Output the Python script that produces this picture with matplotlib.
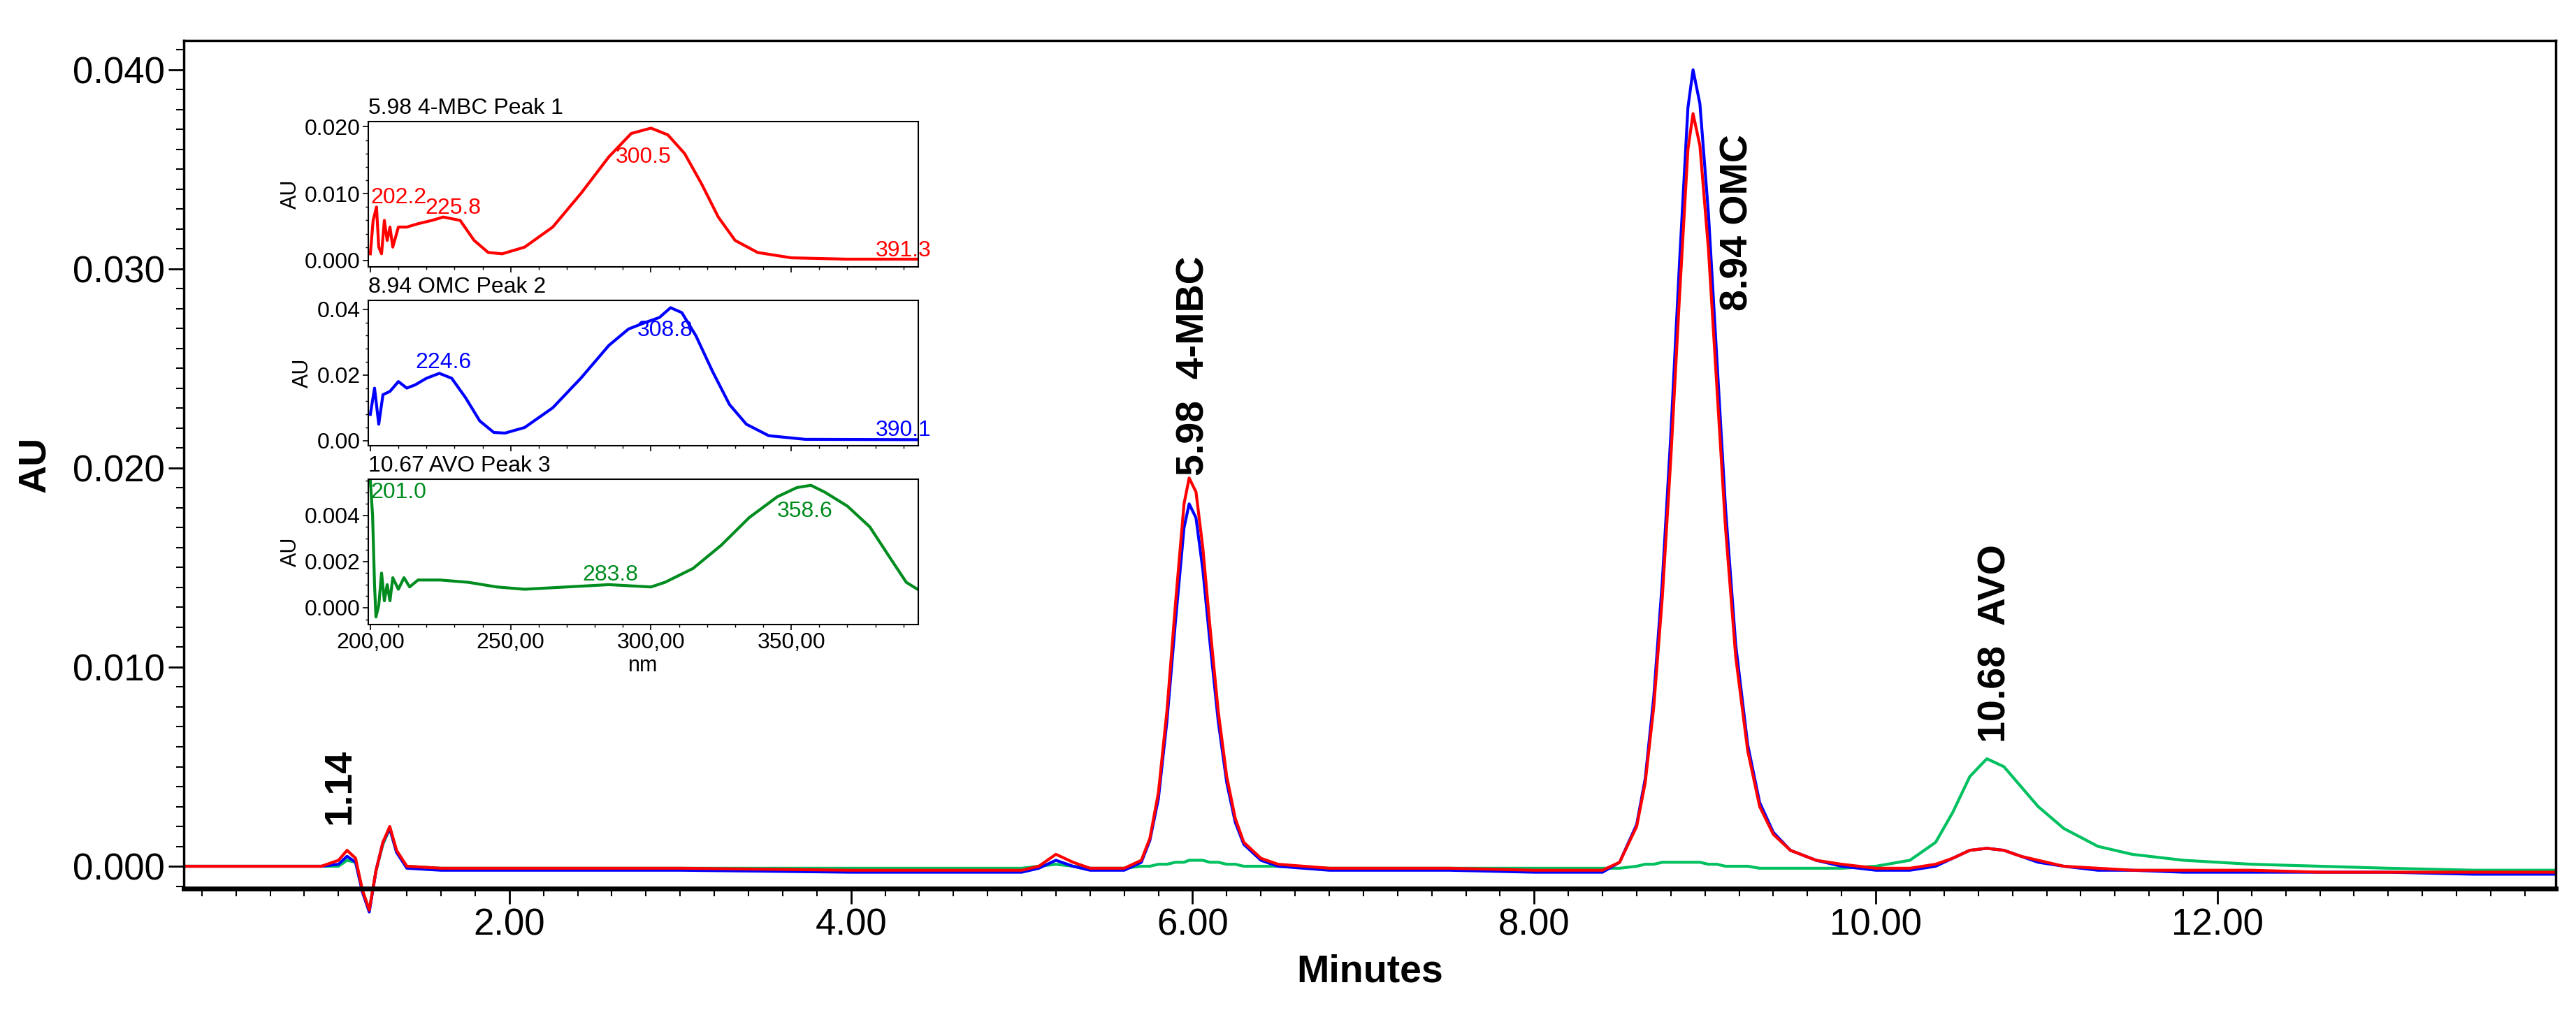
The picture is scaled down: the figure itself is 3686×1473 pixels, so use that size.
import matplotlib
matplotlib.use("Agg")
import matplotlib.pyplot as plt
from matplotlib import font_manager
from matplotlib.ticker import MultipleLocator, FuncFormatter

names = {f.name for f in font_manager.fontManager.ttflist}
MAIN = "Liberation Sans" if "Liberation Sans" in names else "DejaVu Sans"
NARROW = "Liberation Sans Narrow" if "Liberation Sans Narrow" in names else MAIN

# ---------------- chromatogram data ----------------
times = [0.10, 0.5, 0.9, 1.0, 1.05, 1.10,
         1.14, 1.18, 1.22, 1.26, 1.30, 1.34, 1.40, 1.6,
         2.0, 3.0, 4.0, 5.0, 5.10, 5.20, 5.30, 5.40, 5.60,
         5.70, 5.75, 5.80, 5.85, 5.90, 5.95, 5.98, 6.02, 6.06, 6.10, 6.15, 6.20, 6.25, 6.30, 6.40, 6.50,
         6.80, 7.0, 7.5, 8.0, 8.4,
         8.50, 8.60, 8.65, 8.70, 8.75, 8.80, 8.85, 8.90, 8.93, 8.97, 9.02, 9.07, 9.12, 9.18, 9.25, 9.32, 9.40, 9.50, 9.65, 9.80,
         10.0, 10.2, 10.35, 10.45, 10.55, 10.65, 10.75, 10.85, 10.95, 11.10, 11.30, 11.50, 11.80,
         12.2, 12.6, 13.0, 13.5, 13.98]

red_au = [0.0000, 0.0000, 0.0000, 0.0003, 0.0008, 0.0004,
          -0.0012, -0.0022, -0.0002, 0.0012, 0.0020, 0.0008, 0.0000, -0.0001,
          -0.0001, -0.0001, -0.0002, -0.0002, 0.0000, 0.0006, 0.0002, -0.0001, -0.0001,
          0.0003, 0.0014, 0.0037, 0.0078, 0.0132, 0.0182, 0.0195, 0.0188, 0.0160, 0.0122, 0.0078, 0.0045, 0.0024, 0.0012, 0.0004, 0.0001,
          -0.0001, -0.0001, -0.0001, -0.0002, -0.0002,
          0.0002, 0.0020, 0.0042, 0.0080, 0.0135, 0.0205, 0.0285, 0.0360, 0.0378, 0.0362, 0.0310, 0.0240, 0.0170, 0.0105, 0.0058, 0.0030, 0.0016, 0.0008, 0.0003, 0.0001,
          -0.0001, -0.0001, 0.0001, 0.0004, 0.0008, 0.0009, 0.0008, 0.0005, 0.0003, 0.0000, -0.0001, -0.0002, -0.0002,
          -0.0002, -0.0003, -0.0003, -0.0003, -0.0003]

blue_au = [0.0000, 0.0000, 0.0000, 0.0001, 0.0005, 0.0002,
           -0.0013, -0.0023, -0.0002, 0.0012, 0.0019, 0.0007, -0.0001, -0.0002,
           -0.0002, -0.0002, -0.0003, -0.0003, -0.0001, 0.0003, 0.0000, -0.0002, -0.0002,
           0.0002, 0.0013, 0.0034, 0.0073, 0.0123, 0.0170, 0.0182, 0.0175, 0.0149, 0.0114, 0.0073, 0.0042, 0.0022, 0.0011, 0.0003, 0.0000,
           -0.0002, -0.0002, -0.0002, -0.0003, -0.0003,
           0.0002, 0.0021, 0.0044, 0.0085, 0.0143, 0.0217, 0.0302, 0.0381, 0.0400, 0.0383, 0.0328, 0.0254, 0.0180, 0.0111, 0.0061, 0.0032, 0.0017, 0.0008, 0.0003, 0.0000,
           -0.0002, -0.0002, 0.0000, 0.0004, 0.0008, 0.0009, 0.0008, 0.0005, 0.0002, 0.0000, -0.0002, -0.0002, -0.0003,
           -0.0003, -0.0003, -0.0003, -0.0004, -0.0004]

green_au = [0.0000, 0.0000, 0.0000, 0.0000, 0.0003, 0.0002,
            -0.0012, -0.0022, -0.0002, 0.0011, 0.0019, 0.0007, 0.0000, -0.0001,
            -0.0001, -0.0001, -0.0001, -0.0001, 0.0000, 0.0001, 0.0000, -0.0001, -0.0001,
            0.0000, 0.0000, 0.0001, 0.0001, 0.0002, 0.0002, 0.0003, 0.0003, 0.0003, 0.0002, 0.0002, 0.0001, 0.0001, 0.0000, 0.0000, 0.0000,
            -0.0001, -0.0001, -0.0001, -0.0001, -0.0001,
            -0.0001, 0.0000, 0.0001, 0.0001, 0.0002, 0.0002, 0.0002, 0.0002, 0.0002, 0.0002, 0.0001, 0.0001, 0.0000, 0.0000, 0.0000, -0.0001, -0.0001, -0.0001, -0.0001, -0.0001,
            0.0000, 0.0003, 0.0012, 0.0027, 0.0045, 0.0054, 0.0050, 0.0040, 0.0030, 0.0019, 0.0010, 0.0006, 0.0003,
            0.0001, 0.0000, -0.0001, -0.0002, -0.0002]

peak_labels = ["1.14", "5.98  4-MBC", "8.94 OMC", "10.68  AVO"]
peak_label_x = [1.01, 6.01, 9.19, 10.70]
peak_label_y = [0.0021, 0.0196, 0.0279, 0.0062]

x_ticks = [2, 4, 6, 8, 10, 12]
y_ticks = [0.0, 0.01, 0.02, 0.03, 0.04]

# ---------------- spectra data ----------------
wl_red = [200, 201, 202.2, 203, 204, 205, 206, 207, 208, 210, 213, 217, 222, 226, 232, 237, 242, 247, 255, 265, 275, 285, 293, 300, 306, 312, 318, 324, 330, 338, 350, 370, 395]
au_red = [0.001, 0.006, 0.008, 0.002, 0.001, 0.006, 0.003, 0.005, 0.002, 0.005, 0.005, 0.0055, 0.006, 0.0065, 0.0060, 0.0030, 0.0012, 0.0010, 0.0020, 0.0050, 0.0100, 0.0155, 0.0190, 0.0198, 0.0188, 0.0160, 0.0115, 0.0065, 0.0030, 0.0012, 0.0004, 0.0002, 0.0002]

wl_blue = [200, 201.5, 203, 204.5, 207, 210, 213, 216, 220, 224.6, 229, 234, 239, 244, 248, 255, 265, 275, 285, 292, 298, 303, 307, 311, 316, 322, 328, 334, 342, 355, 395]
au_blue = [0.008, 0.016, 0.005, 0.014, 0.015, 0.018, 0.016, 0.017, 0.019, 0.0205, 0.019, 0.013, 0.006, 0.0025, 0.0023, 0.004, 0.010, 0.019, 0.029, 0.034, 0.036, 0.0375, 0.0405, 0.039, 0.032, 0.021, 0.011, 0.005, 0.0015, 0.0004, 0.0003]

wl_green = [200, 200.8, 201.5, 202, 203, 204, 205, 206, 207, 208, 210, 212, 214, 217, 225, 235, 245, 255, 270, 285, 300, 305, 315, 325, 335, 345, 352, 357, 362, 370, 378, 385, 391, 395]
au_green = [0.0055, 0.004, 0.001, -0.0004, 0.0001, 0.0015, 0.0003, 0.0010, 0.0003, 0.0013, 0.0008, 0.0013, 0.0009, 0.0012, 0.0012, 0.0011, 0.0009, 0.0008, 0.0009, 0.0010, 0.0009, 0.0011, 0.0017, 0.0027, 0.0039, 0.0048, 0.0052, 0.0053, 0.0050, 0.0044, 0.0035, 0.0022, 0.0011, 0.0008]

inset_titles = ["5.98 4-MBC Peak 1", "8.94 OMC Peak 2", "10.67 AVO Peak 3"]
red_marks = [("202.2", 200.2, 0.0094), ("225.8", 219.5, 0.0078), ("300.5", 287.5, 0.0155), ("391.3", 380, 0.0015)]
blue_marks = [("224.6", 216, 0.0237), ("308.8", 295, 0.0336), ("390.1", 380, 0.0032)]
green_marks = [("201.0", 200.2, 0.0050), ("283.8", 275.5, 0.00142), ("358.6", 345, 0.00418)]

RED, BLUE, GREEN_MAIN, GREEN_SPEC = "#ff0000", "#0000ff", "#00c060", "#008c1e"

fig = plt.figure(figsize=(36.86, 14.73), dpi=100)
ax = fig.add_axes([0.0714, 0.1365, 0.9207, 0.8241])
for vals, col in [(green_au, GREEN_MAIN), (blue_au, BLUE), (red_au, RED)]:
    ax.plot(times, vals, color=col, lw=3, clip_on=False)
ax.set_xlim(0.095, 13.98)
ax.set_ylim(-0.00112, 0.04147)
ax.set_xticks(x_ticks)
ax.xaxis.set_minor_locator(MultipleLocator(0.2))
ax.set_yticks(y_ticks)
ax.yaxis.set_minor_locator(MultipleLocator(0.001))
ax.xaxis.set_major_formatter(FuncFormatter(lambda v, p: f"{v:.2f}"))
ax.yaxis.set_major_formatter(FuncFormatter(lambda v, p: f"{v:.3f}"))
ax.tick_params(axis="both", which="major", labelsize=38, length=16, width=2, direction="out")
ax.tick_params(axis="both", which="minor", length=8, width=1.5, direction="out")
for lab in ax.get_xticklabels() + ax.get_yticklabels():
    lab.set_fontfamily(MAIN)
for s in ax.spines.values():
    s.set_linewidth(2.5)
ax.spines["bottom"].set_linewidth(5)
ax.set_xlabel("Minutes", fontsize=40, fontweight="bold", family=MAIN, labelpad=12)
ax.set_ylabel("AU", fontsize=40, fontweight="bold", family=MAIN, labelpad=20)
for t, x, y in zip(peak_labels, peak_label_x, peak_label_y):
    ax.text(x, y, t, rotation=90, ha="center", va="bottom", fontsize=40, fontweight="bold", family=MAIN)

# ---------------- insets ----------------
inset_specs = [
    (0.741, wl_red, au_red, RED, (-0.0009, 0.0208), [0.0, 0.01, 0.02], 0.002, "{:.3f}", red_marks),
    (0.567, wl_blue, au_blue, BLUE, (-0.0015, 0.0427), [0.0, 0.02, 0.04], 0.004, "{:.2f}", blue_marks),
    (0.393, wl_green, au_green, GREEN_SPEC, (-0.00073, 0.00555), [0.0, 0.002, 0.004], 0.0005, "{:.3f}", green_marks),
]
for i, (bot, wl, au, col, ylim, yt, ymin, fmt, marks) in enumerate(inset_specs):
    ia = fig.add_axes([0.143, bot, 0.2135, 0.141])
    ia.plot(wl, au, color=col, lw=3)
    ia.set_xlim(199.3, 395.3)
    ia.set_ylim(*ylim)
    ia.set_yticks(yt)
    ia.yaxis.set_minor_locator(MultipleLocator(ymin))
    ia.yaxis.set_major_formatter(FuncFormatter(lambda v, p, f=fmt: f.format(v)))
    ia.set_xticks([200, 250, 300, 350])
    ia.xaxis.set_minor_locator(MultipleLocator(10))
    ia.tick_params(which="major", length=6, width=1.2, labelsize=23, pad=2)
    ia.tick_params(which="minor", length=3, width=1)
    for s in ia.spines.values():
        s.set_linewidth(1.5)
    if i == 2:
        ia.xaxis.set_major_formatter(FuncFormatter(lambda v, p: f"{int(v)},00"))
        ia.set_xlabel("nm", fontsize=22, family=NARROW, labelpad=2)
    else:
        ia.set_xticklabels([])
    for lab in ia.get_xticklabels() + ia.get_yticklabels():
        lab.set_fontfamily(NARROW)
    ia.set_ylabel("AU", fontsize=22, family=NARROW, labelpad=4)
    ia.text(0.0, 1.02, inset_titles[i], transform=ia.transAxes, ha="left", va="bottom",
            fontsize=23, family=NARROW)
    for t, x, y in marks:
        ia.text(x, y, t, color=col, fontsize=23, family=NARROW, ha="left", va="center", clip_on=False)

fig.savefig("out.png", dpi=100)
